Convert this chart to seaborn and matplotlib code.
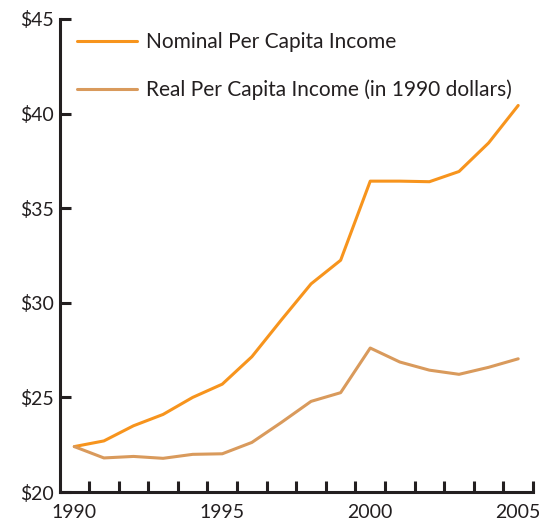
import matplotlib
matplotlib.use("Agg")
import matplotlib.pyplot as plt
import pandas as pd
import seaborn as sns
from matplotlib.ticker import FixedLocator, FuncFormatter

# ── Data ──────────────────────────────────────────────────────────────────────
years = list(range(1990, 2006))
nominal = [22.4, 22.7, 23.5, 24.1, 25.0, 25.7, 27.15, 29.1,
           31.0, 32.25, 36.43, 36.43, 36.4, 36.94, 38.45, 40.43]
real = [22.4, 21.8, 21.88, 21.78, 21.99, 22.02, 22.62, 23.68,
        24.79, 25.25, 27.61, 26.87, 26.44, 26.22, 26.59, 27.04]
series_names = ["Nominal Per Capita Income",
                "Real Per Capita Income (in 1990 dollars)"]
colors = ["#F7941D", "#D99A5C"]
y_ticks = [20, 25, 30, 35, 40, 45]
x_labels = [1990, 1995, 2000, 2005]

df = pd.concat([
    pd.DataFrame({"year": years, "income": nominal, "series": series_names[0]}),
    pd.DataFrame({"year": years, "income": real, "series": series_names[1]}),
])

# ── Plot ──────────────────────────────────────────────────────────────────────
sns.set_theme(style="white")
plt.rcParams["font.family"] = ["Lato", "DejaVu Sans"]
ink = "#231F20"

fig = plt.figure(figsize=(5.55, 5.21), dpi=100)
ax = fig.add_axes([59.5 / 555, 29 / 521, 473.5 / 555, 473 / 521])

sns.lineplot(data=df, x="year", y="income", hue="series",
             palette=dict(zip(series_names, colors)), linewidth=2.2,
             ax=ax, legend=False)

ax.set_xlim(1989.5, 2005.5)
ax.set_ylim(20, 45)
ax.set_xlabel("")
ax.set_ylabel("")

for side in ("top", "right"):
    ax.spines[side].set_visible(False)
for side in ("left", "bottom"):
    ax.spines[side].set_color(ink)
    ax.spines[side].set_linewidth(2.2)

ax.yaxis.set_major_locator(FixedLocator(y_ticks))
ax.yaxis.set_major_formatter(FuncFormatter(lambda v, _: f"${v:.0f}"))
ax.tick_params(axis="y", direction="in", length=8, width=2.2, color=ink,
               labelsize=14, labelcolor=ink, pad=4, left=True)

# year labels centred on points, tick marks on year boundaries
ax.xaxis.set_major_locator(FixedLocator(x_labels))
ax.xaxis.set_minor_locator(FixedLocator([y + 0.5 for y in years]))
ax.tick_params(axis="x", which="major", length=0, labelsize=14,
               labelcolor=ink, pad=9)
ax.tick_params(axis="x", which="minor", direction="in", length=8,
               width=2.2, color=ink, bottom=True)

handles = [plt.Line2D([], [], color=c, linewidth=2.2) for c in colors]
ax.legend(handles, series_names, loc="upper left",
          bbox_to_anchor=(0.037, 0.972), frameon=False, fontsize=15,
          handlelength=2.9, handletextpad=0.4, labelspacing=1.3,
          borderpad=0, borderaxespad=0, labelcolor=ink)

fig.savefig("out.png", dpi=100)
plt.close(fig)
